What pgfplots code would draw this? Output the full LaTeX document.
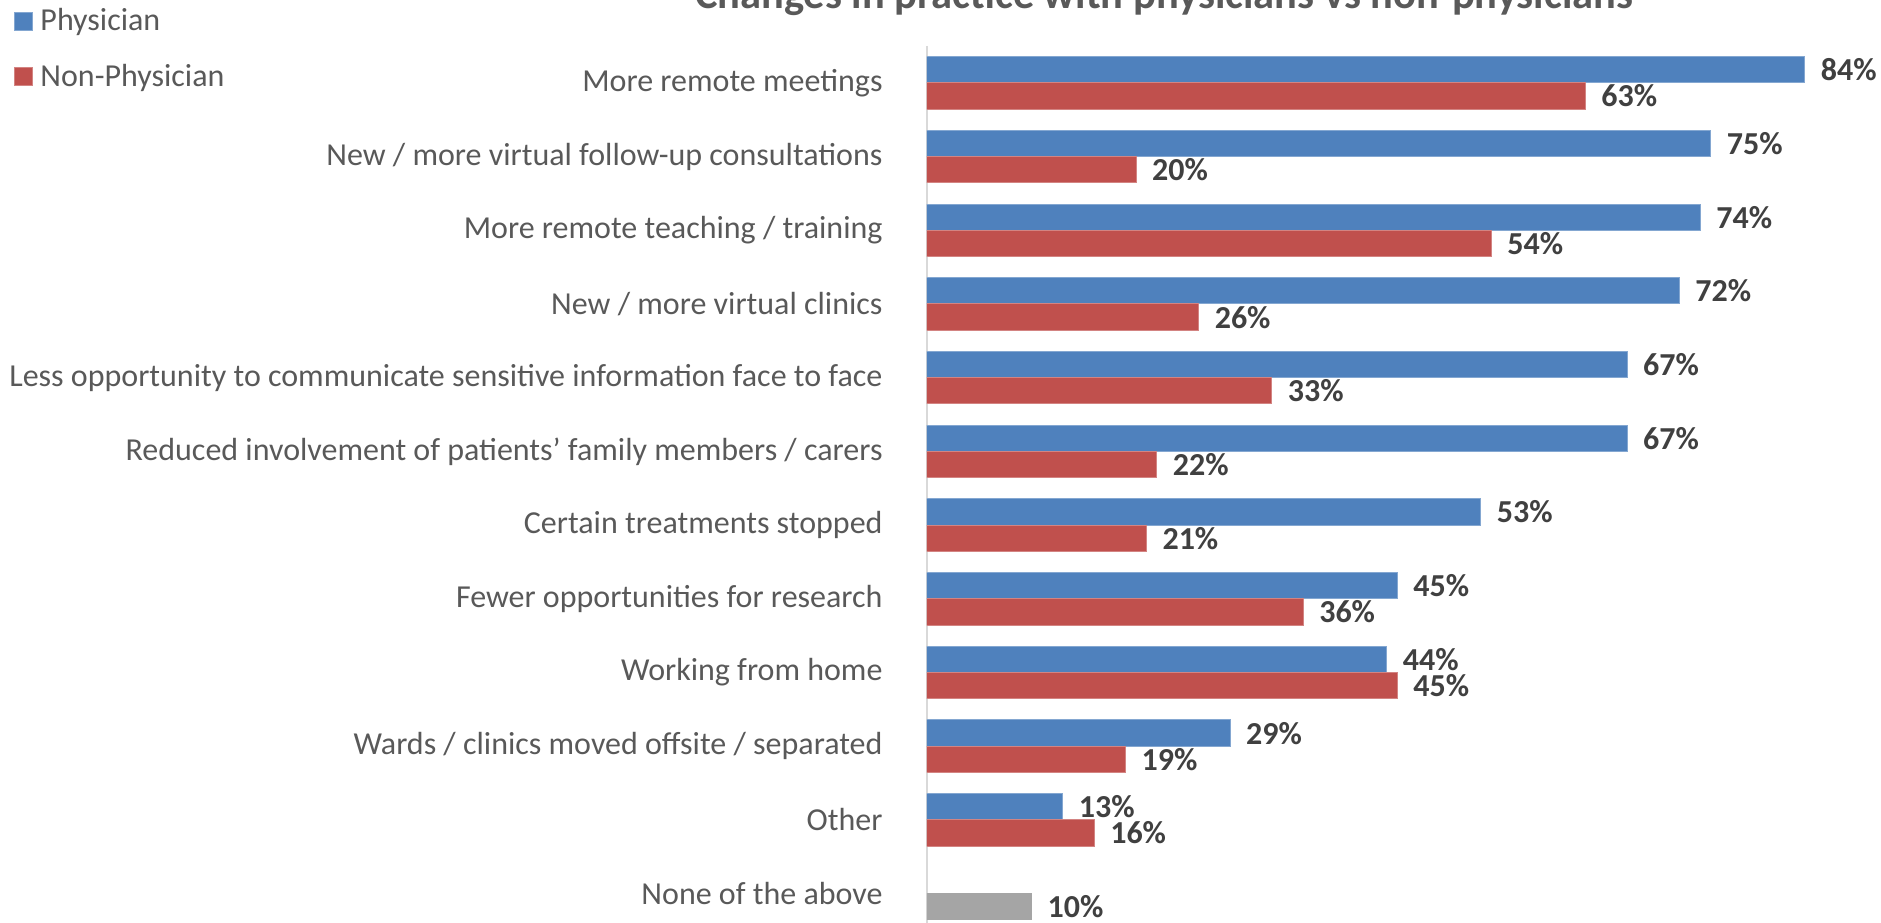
\documentclass[border=0pt]{standalone}
\usepackage{fontspec}
\setmainfont{Carlito}
\usepackage{pgfplots}
\pgfplotsset{compat=1.18}
\definecolor{physblue}{HTML}{4F81BD}
\definecolor{nonred}{HTML}{C0504D}
\definecolor{nonegray}{HTML}{A5A5A5}
\definecolor{labgray}{HTML}{595959}
\definecolor{valgray}{HTML}{404040}
\begin{document}
\begin{tikzpicture}[x=1pt,y=1pt]
\useasboundingbox (0,0) rectangle (752.4,369.2);
\node[anchor=base, font=\bfseries\fontsize{17}{19}\selectfont, text=labgray] at (465.6,365.6)
  {Changes in practice with physicians vs non-physicians};
\begin{axis}[
    at={(370.8pt,-3pt)}, anchor=south west,
    scale only axis, width=376.2pt, height=353.8pt,
    xbar, bar width=10.5pt,
    xmin=0, xmax=90, ymin=-0.5, ymax=11.5, y dir=reverse,
    axis x line=none, axis y line*=left,
    y axis line style={draw=black!15, line width=0.8pt},
    xtick=\empty, ytick={0,...,11}, major tick length=0pt,
    yticklabels={More remote meetings, New / more virtual follow-up consultations,
      More remote teaching / training, New / more virtual clinics,
      Less opportunity to communicate sensitive information face to face,
      Reduced involvement of patients’ family members / carers,
      Certain treatments stopped, Fewer opportunities for research,
      Working from home, Wards / clinics moved offsite / separated,
      Other, None of the above},
    yticklabel style={font=\fontsize{12.8}{15}\selectfont, text=labgray, inner sep=0pt, xshift=-17.6pt},
    point meta=x,
    nodes near coords={\pgfmathprintnumber[assume math mode=true]{\pgfplotspointmeta}\%},
    nodes near coords style={font=\bfseries\fontsize{12.8}{15}\selectfont, text=valgray, anchor=west, xshift=2.9pt},
    legend style={at={(-0.9708,1.043)}, anchor=north west, draw=none, fill=none,
      font=\fontsize{12.8}{15}\selectfont, text=labgray, inner sep=0pt, row sep=11.8pt,
      nodes={inner sep=0pt}},
    legend cell align=left,
    legend image code/.code={\fill (0pt,-3.6pt) rectangle (7.2pt,3.6pt); \path (10pt,0pt);},
]
\addplot+[bar shift=5.25pt, fill=physblue, draw=physblue!70!white, line width=0.4pt] coordinates {
  (84,0) (75,1) (74,2) (72,3) (67,4) (67,5) (53,6) (45,7) (44,8) (29,9) (13,10)};
\addplot+[bar shift=-5.25pt, fill=nonred, draw=nonred!70!white, line width=0.4pt] coordinates {
  (63,0) (20,1) (54,2) (26,3) (33,4) (22,5) (21,6) (36,7) (45,8) (19,9) (16,10)};
\addplot+[forget plot, bar shift=-5.25pt, fill=nonegray, draw=nonegray] coordinates {(10,11)};
\legend{Physician, Non-Physician}
\end{axis}
\end{tikzpicture}
\end{document}
